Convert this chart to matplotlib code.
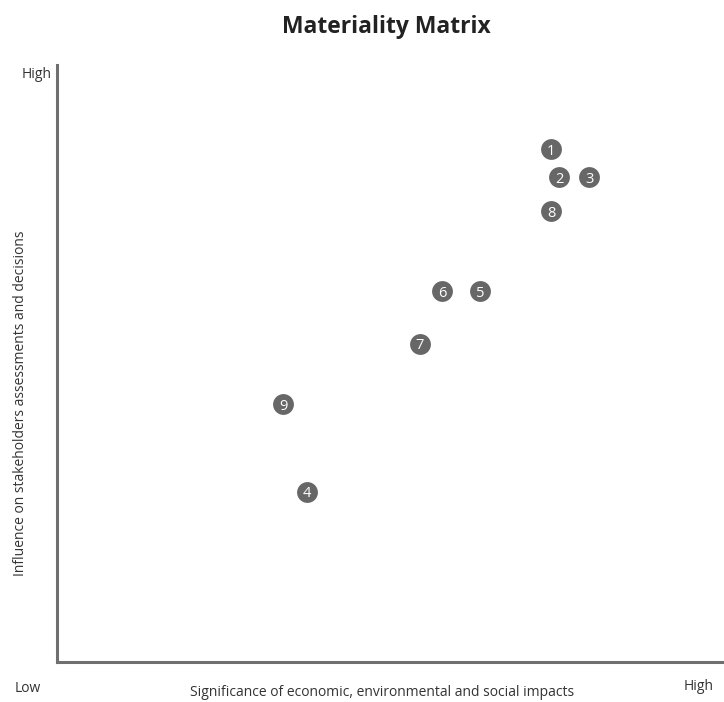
import matplotlib
matplotlib.use("Agg")
import matplotlib.pyplot as plt

labels = ["1", "2", "3", "8", "6", "5", "7", "9", "4"]
significance = [74.1, 75.3, 79.8, 74.1, 57.7, 63.4, 54.4, 33.9, 37.5]
influence = [85.9, 81.2, 81.2, 75.5, 62.1, 62.1, 53.3, 43.2, 28.5]

plt.rcParams['font.family'] = ['Open Sans', 'DejaVu Sans']

W, H = 724, 702
fig = plt.figure(figsize=(W / 100, H / 100), dpi=100)
ax = fig.add_axes([57 / W, 1 - 662 / H, (W - 57) / W, (662 - 65) / H])
ax.set_xlim(0, 100)
ax.set_ylim(0, 100)

ax.scatter(significance, influence, s=225, color="#676767", zorder=3, linewidths=0)
for lab, x, y in zip(labels, significance, influence):
    ax.text(x, y, lab, color="white", fontsize=10.5, ha="center", va="center_baseline", zorder=4)

for side in ["top", "right"]:
    ax.spines[side].set_visible(False)
for side in ["left", "bottom"]:
    ax.spines[side].set_color("#6f6f6f")
    ax.spines[side].set_linewidth(2.2)
ax.set_xticks([])
ax.set_yticks([])

fig.text(0.5 + 24 / W, 1 - 27 / H, "Materiality Matrix", ha="center", va="center",
         fontsize=16.5, fontweight="bold", color="#222222")
fig.text(28 / W, 1 - 688 / H, "Low", ha="center", va="center", fontsize=10, color="#333333")
fig.text(699 / W, 1 - 686 / H, "High", ha="center", va="center", fontsize=10, color="#333333")
fig.text(37 / W, 1 - 75 / H, "High", ha="center", va="center", fontsize=10, color="#333333")
fig.text(382 / W, 1 - 693 / H, "Significance of economic, environmental and social impacts",
         ha="center", va="center", fontsize=10, color="#333333")
fig.text(21 / W, 1 - 403 / H, "Influence on stakeholders assessments and decisions",
         ha="center", va="center", rotation=90, fontsize=10, color="#333333")

fig.savefig("out.png", dpi=100)
